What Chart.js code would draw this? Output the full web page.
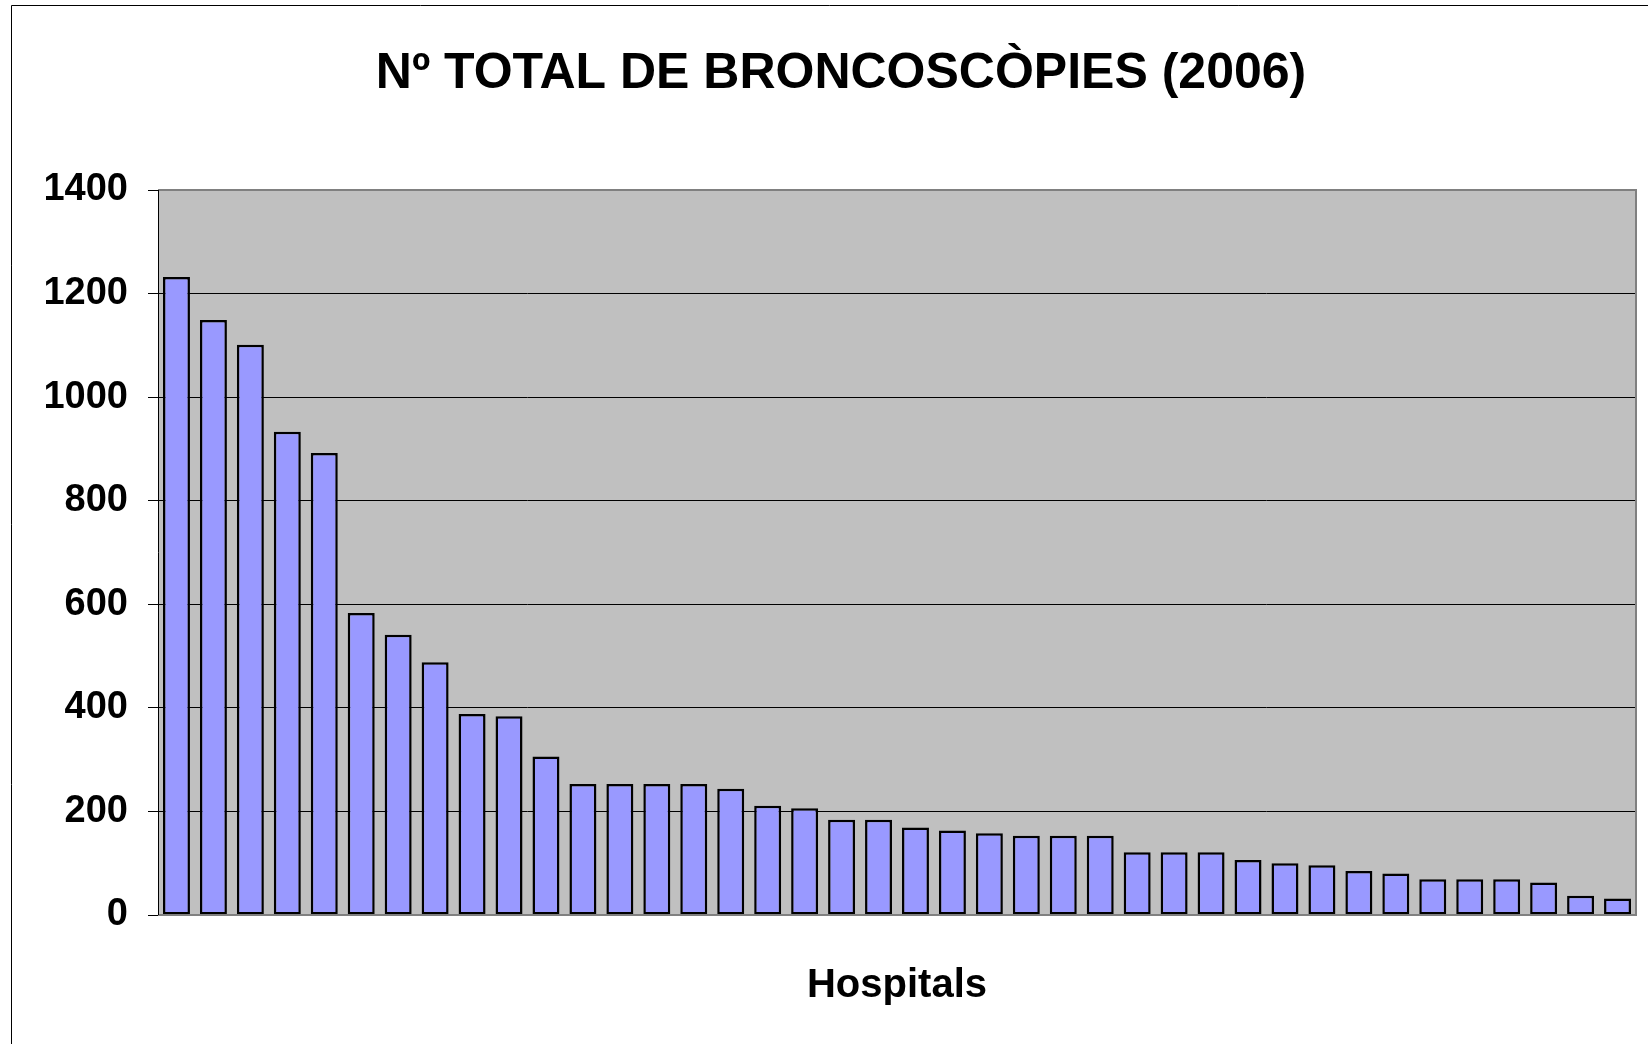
<!DOCTYPE html>
<html>
<head>
<meta charset="utf-8">
<script src="https://cdn.jsdelivr.net/npm/chart.js@4/dist/chart.umd.min.js"></script>
<style>
  html, body { margin: 0; padding: 0; background: #ffffff; }
  #wrap { width: 1648px; height: 1044px; position: relative; }
</style>
</head>
<body>
<div id="wrap"><canvas id="grafico" width="1648" height="1044"></canvas></div>
<script>
// Dades del gràfic
const hospitals = [];
for (let i = 1; i <= 40; i++) hospitals.push("H" + i);

const broncoscopies = [1232, 1149, 1101, 933, 892, 583, 541, 488, 388, 384,
  306, 253, 253, 253, 253, 244, 211, 206, 184, 184,
  169, 163, 158, 153, 153, 153, 121, 121, 121, 106,
  100, 96, 85, 80, 69, 69, 69, 63, 37, 32];

const yTicks = [0, 200, 400, 600, 800, 1000, 1200, 1400];

const titol = "Nº TOTAL DE BRONCOSCÒPIES (2006)";
const titolEix = "Hospitals";

// fons gris de l'àrea i marc de la pàgina
const fonsPlugin = {
  id: "fons",
  beforeDraw(chart) {
    const ctx = chart.ctx;
    const a = chart.chartArea;
    ctx.save();
    ctx.fillStyle = "#ffffff";
    ctx.fillRect(0, 0, chart.width, chart.height);
    ctx.strokeStyle = "#000000";
    ctx.lineWidth = 1;
    ctx.beginPath();
    ctx.moveTo(11.5, chart.height);
    ctx.lineTo(11.5, 5.5);
    ctx.lineTo(chart.width, 5.5);
    ctx.stroke();
    ctx.fillStyle = "#c0c0c0";
    ctx.fillRect(a.left, a.top, a.right - a.left, a.bottom - a.top);
    ctx.restore();
  },
  afterDatasetsDraw(chart) {
    const ctx = chart.ctx;
    const a = chart.chartArea;
    ctx.save();
    ctx.strokeStyle = "#808080";
    ctx.lineWidth = 2;
    ctx.beginPath();
    ctx.moveTo(a.left, a.top);
    ctx.lineTo(a.right, a.top);
    ctx.lineTo(a.right, a.bottom);
    ctx.lineTo(a.left, a.bottom);
    ctx.stroke();
    ctx.strokeStyle = "#000000";
    ctx.lineWidth = 1;
    ctx.beginPath();
    ctx.moveTo(a.left + 0.5, a.top);
    ctx.lineTo(a.left + 0.5, a.bottom);
    ctx.stroke();
    ctx.restore();
  }
};

const ctx = document.getElementById("grafico").getContext("2d");
new Chart(ctx, {
  type: "bar",
  data: {
    labels: hospitals,
    datasets: [{
      data: broncoscopies,
      backgroundColor: "#9999ff",
      borderColor: "#000000",
      borderWidth: 2.5,
      borderSkipped: false,
      barPercentage: 0.73,
      categoryPercentage: 1
    }]
  },
  options: {
    responsive: false,
    animation: false,
    layout: { padding: { left: 46, right: 12, top: 0, bottom: 0 } },
    plugins: {
      legend: { display: false },
      tooltip: { enabled: false },
      title: {
        display: true,
        text: titol,
        color: "#000000",
        font: { family: "'Liberation Sans', Arial, sans-serif", size: 50, weight: "bold", lineHeight: 1.2 },
        padding: { top: 44, bottom: 86 }
      }
    },
    scales: {
      x: {
        ticks: { display: false },
        grid: { display: false },
        border: { display: false },
        title: {
          display: true,
          text: titolEix,
          color: "#000000",
          font: { family: "'Liberation Sans', Arial, sans-serif", size: 40, weight: "bold", lineHeight: 1.2 },
          padding: { top: 0, bottom: 34 }
        },
        afterFit(s) { s.height = 129; }
      },
      y: {
        min: 0,
        max: 1400,
        afterBuildTicks(s) { s.ticks = yTicks.map(v => ({ value: v })); },
        ticks: {
          color: "#000000",
          padding: 20,
          font: { family: "'Liberation Sans', Arial, sans-serif", size: 38, weight: "bold" },
          callback: v => String(v)
        },
        grid: { color: "#000000", lineWidth: 1, tickLength: 10 },
        border: { display: false },
        afterFit(s) { s.width = 112; }
      }
    }
  },
  plugins: [fonsPlugin]
});
</script>
</body>
</html>
